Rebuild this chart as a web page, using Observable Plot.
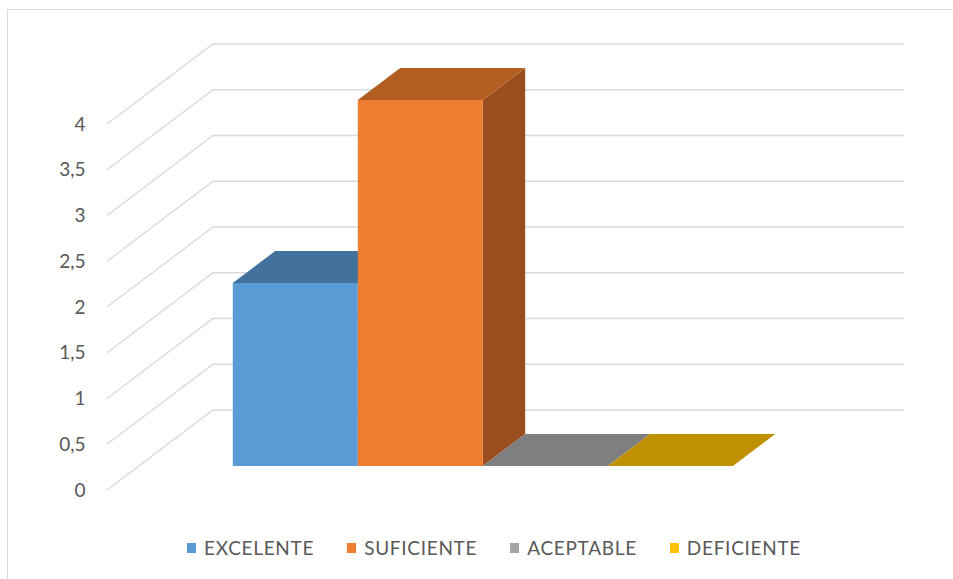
<!DOCTYPE html>
<html>
<head>
<meta charset="utf-8">
<script src="https://cdn.jsdelivr.net/npm/d3@7"></script>
<script src="https://cdn.jsdelivr.net/npm/@observablehq/plot@0.6"></script>
<style>
  html, body { margin: 0; padding: 0; background: #fff; }
  #wrap { position: relative; width: 953px; height: 579px; overflow: hidden; font-family: Lato, "Open Sans", sans-serif; }
  #frame { position: absolute; left: 7px; top: 9px; width: 980px; height: 620px; border: 1px solid #d9d9d9; box-sizing: border-box; }
  #chart { position: absolute; left: 0; top: 0; }
  #legend { position: absolute; left: 187px; top: 536px; display: flex; gap: 33px; align-items: center; color: #595959; font-size: 19px; letter-spacing: 0.7px; }
  #legend .item { display: flex; align-items: center; }
  #legend .sw { width: 9px; height: 10px; margin-right: 8px; }
</style>
</head>
<body>
<div id="wrap">
  <div id="frame"></div>
  <div id="chart"></div>
  <div id="legend"></div>
</div>
<script>
// ---- data ----
const categories = ["EXCELENTE", "SUFICIENTE", "ACEPTABLE", "DEFICIENTE"];
const values = [2, 4, 0, 0];
const yTicks = [0, 0.5, 1, 1.5, 2, 2.5, 3, 3.5, 4];
const yTickLabels = ["0", "0,5", "1", "1,5", "2", "2,5", "3", "3,5", "4"];

// ---- styles ----
const frontColors = ["#5B9BD5", "#ED7D31", "#A5A5A5", "#FFC000"];
const topColors = ["#41719C", "#B35E21", "#7F7F7F", "#BF9000"];
const sideColors = ["#3A6690", "#9A4E1D", "#6E6E6E", "#A67D00"];
const legendColors = ["#5B9BD5", "#ED7D31", "#A5A5A5", "#FFC000"];
const DX = 106, DY = -80;       // depth vector (floor front -> back wall)
const D0 = 0.3, D1 = 0.7;       // bar depth span
const gridColor = "#d9d9d9";

const table = categories.map((c, i) => ({category: c, value: values[i], i}));

function gridMark(index, scales, vals, dim) {
  const Y = scales.y;
  const g = d3.create("svg:g").attr("fill", "none").attr("stroke", gridColor).attr("stroke-width", 1.3);
  const xl = dim.marginLeft, xr = dim.width - dim.marginRight;
  for (const t of yTicks) {
    const y = Y(t);
    g.append("path").attr("d", `M${xl},${y}L${xl + DX},${y + DY}L${xr + DX},${y + DY}`);
  }
  return g.node();
}

function barsMark(index, scales) {
  const X = scales.x, Y = scales.y;
  const bw = typeof X.bandwidth === "function" ? X.bandwidth() : (X(categories[1]) - X(categories[0]));
  const P = (x, v, d) => [x + d * DX, Y(v) + d * DY];
  const poly = pts => "M" + pts.map(p => p.join(",")).join("L") + "Z";
  const g = d3.create("svg:g");
  table.forEach(row => {
    const x0 = X(row.category), x1 = x0 + bw, v = row.value, i = row.i;
    if (v > 0) {
      g.append("path").attr("fill", sideColors[i])
        .attr("d", poly([P(x1, 0, D0), P(x1, 0, D1), P(x1, v, D1), P(x1, v, D0)]));
    }
    g.append("path").attr("fill", topColors[i])
      .attr("d", poly([P(x0, v, D0), P(x1, v, D0), P(x1, v, D1), P(x0, v, D1)]));
    if (v > 0) {
      g.append("path").attr("fill", frontColors[i])
        .attr("d", poly([P(x0, 0, D0), P(x1, 0, D0), P(x1, v, D0), P(x0, v, D0)]));
    }
  });
  return g.node();
}

const chart = Plot.plot({
  width: 953,
  height: 527,
  marginLeft: 107,
  marginRight: 155,
  marginTop: 0,
  marginBottom: 0,
  style: {background: "transparent", fontFamily: "Lato, 'Open Sans', sans-serif"},
  x: {type: "band", domain: categories, range: [201, 701], padding: 0, axis: null},
  y: {domain: [0, 4], range: [490, 124]},
  marks: [
    gridMark,
    Plot.axisY(yTicks, {
      tickSize: 0,
      tickPadding: 22,
      fontSize: 19,
      fill: "#595959",
      label: null,
      tickFormat: d => yTickLabels[yTicks.indexOf(d)]
    }),
    barsMark
  ]
});
document.getElementById("chart").appendChild(chart);

const legend = document.getElementById("legend");
categories.forEach((c, i) => {
  const item = document.createElement("div");
  item.className = "item";
  const sw = document.createElement("span");
  sw.className = "sw";
  sw.style.background = legendColors[i];
  const tx = document.createElement("span");
  tx.textContent = c;
  item.appendChild(sw);
  item.appendChild(tx);
  legend.appendChild(item);
});
</script>
</body>
</html>
